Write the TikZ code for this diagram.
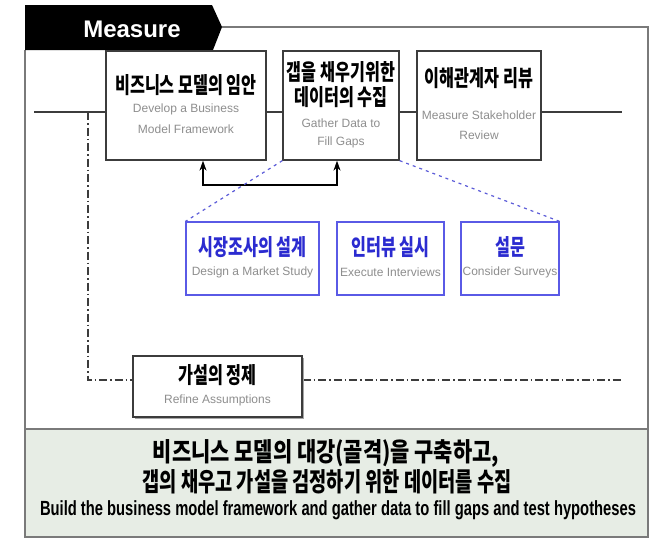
\documentclass[tikz,border=0pt]{standalone}
\usepackage{fontspec}
\setmainfont{Liberation Sans}
\newfontfamily\krfont[FakeStretch=0.72]{Noto Sans CJK KR}
\usetikzlibrary{arrows.meta,shadows,backgrounds}

\definecolor{framegray}{HTML}{7A7A7A}
\definecolor{boxline}{HTML}{3C3C3C}
\definecolor{subgray}{HTML}{8E8E8E}
\definecolor{bluebox}{HTML}{5A5AE6}
\definecolor{bluetext}{HTML}{2B2BD0}
\definecolor{bluedash}{HTML}{5C5CD8}
\definecolor{notefill}{HTML}{E7EDE5}

\tikzset{
  framepen/.style={draw=framegray, line width=1.5pt},
  stepbox/.style={draw=boxline, line width=1.3pt, fill=white, minimum height=109pt, inner sep=0},
  taskbox/.style={draw=bluebox, line width=1.2pt, fill=white, minimum height=73pt, inner sep=0},
  refinebox/.style={draw=boxline, line width=1.3pt, fill=white, minimum width=169pt, minimum height=61pt,
    inner sep=0, drop shadow={shadow xshift=2pt, shadow yshift=-2pt, fill=black!35, opacity=1}},
  krtitle/.style={font=\krfont\bfseries\fontsize{22.5}{22.5}\selectfont, inner sep=0},
  krblue/.style={krtitle, text=bluetext},
  entext/.style={font=\fontsize{12}{12}\selectfont, text=subgray, inner sep=0},
  mainline/.style={draw=boxline, line width=1.3pt},
  dashdotline/.style={draw=boxline, line width=1.2pt, dash pattern=on 8pt off 3pt on 1.5pt off 3pt},
  linkline/.style={draw=bluedash, line width=1.2pt, dash pattern=on 3pt off 4pt},
  feedback/.style={draw=black, line width=1.3pt, -{Stealth[length=10pt,width=7pt]}},
}

\begin{document}
\begin{tikzpicture}[x=1pt,y=-1pt]
\useasboundingbox (0,0) rectangle (652,538);

% outer frame and summary panel
\draw[framepen] (222,27) -- (648,27) -- (648,537);
\draw[framepen] (25,50) -- (25,537);
\draw[framepen, fill=notefill] (25,429) rectangle (648,537);

% phase tab
\fill[black] (25,5) -- (212,5) -- (222,27) -- (213,50) -- (25,50) -- cycle;
\node[text=white, font=\bfseries\fontsize{24}{24}\selectfont, inner sep=0] (tab) at (132,29) {Measure};

% main steps
\node[stepbox, minimum width=160pt] (b1) at (186,105.5) {};
\node[stepbox, minimum width=116pt] (b2) at (341,105.5) {};
\node[stepbox, minimum width=124pt] (b3) at (479,105.5) {};

\node[krtitle] (b1k) at (186,85) {비즈니스 모델의 임안};
\node[entext] (b1e1) at (186,109) {Develop a Business};
\node[entext] (b1e2) at (186,129) {Model Framework};

\node[krtitle] (b2k1) at (341,72) {갭을 채우기위한};
\node[krtitle] (b2k2) at (341,97) {데이터의 수집};
\node[entext] (b2e1) at (341,123) {Gather Data to};
\node[entext] (b2e2) at (341,142) {Fill Gaps};

\node[krtitle] (b3k) at (479,78) {이해관계자 리뷰};
\node[entext] (b3e1) at (479,115) {Measure Stakeholder};
\node[entext] (b3e2) at (479,135) {Review};

% data gathering tasks
\node[taskbox, minimum width=133pt] (t1) at (252.5,258.5) {};
\node[taskbox, minimum width=107pt] (t2) at (390.5,258.5) {};
\node[taskbox, minimum width=98pt] (t3) at (510,258.5) {};

\node[krblue] (t1k) at (252.5,247) {시장조사의 설계};
\node[entext] (t1e) at (252.5,272) {Design a Market Study};
\node[krblue] (t2k) at (390.5,247) {인터뷰 실시};
\node[entext] (t2e) at (390.5,272) {Execute Interviews};
\node[krblue] (t3k) at (510,247) {설문};
\node[entext] (t3e) at (510,272) {Consider Surveys};

% refine step
\node[refinebox] (rf) at (217.5,386.5) {};
\node[krtitle] (rfk) at (217.5,375) {가설의 정제};
\node[entext] (rfe) at (217.5,400) {Refine Assumptions};

% process lines behind the boxes
\coordinate (L) at (34,112);
\coordinate (R) at (622,112);
\coordinate (ddtop) at (88,112);
\coordinate (dd) at (88,380);
\coordinate (ddR) at (622,380);
\begin{scope}[on background layer]
  \draw[mainline] (L) -- (R);
  \draw[dashdotline] (ddtop) -- (dd) -- (dd -| rf.west);
  \draw[dashdotline] (dd -| rf.east) -- (ddR);
\end{scope}

% feedback arrows
\coordinate (fork) at (270,185);
\draw[feedback] (fork) -| ([xshift=17pt]b1.south);
\draw[feedback] (fork) -| ([xshift=-4pt]b2.south);

% detail links
\draw[linkline] (b2.south west) -- (t1.north west);
\draw[linkline] (b2.south east) -- (t3.north east);

% summary
\node[inner sep=0] (s1) at (326,453) {\resizebox*{346pt}{\totalheight}{\krfont\bfseries\fontsize{26}{26}\selectfont 비즈니스 모델의 대강(골격)을 구축하고,}};
\node[inner sep=0] (s2) at (327,482) {\resizebox*{369pt}{\totalheight}{\krfont\bfseries\fontsize{26}{26}\selectfont 갭의 채우고 가설을 검정하기 위한 데이터를 수집}};
\node[inner sep=0] (s3) at (338,510) {\resizebox*{596pt}{\totalheight}{\bfseries\fontsize{20.5}{20.5}\selectfont Build the business model framework and gather data to fill gaps and test hypotheses}};
\end{tikzpicture}
\end{document}
